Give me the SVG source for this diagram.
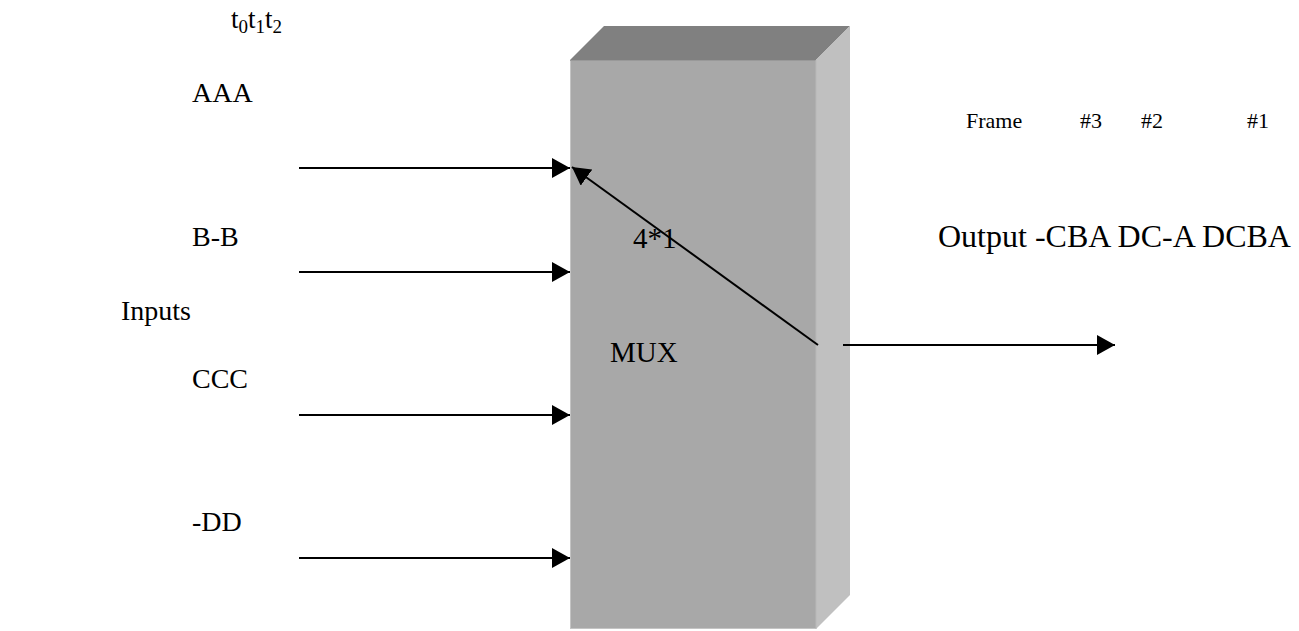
<svg xmlns="http://www.w3.org/2000/svg" width="1299" height="631" viewBox="0 0 1299 631">
<style>
text{font-family:"Liberation Serif","Times New Roman",serif;fill:#000}
.l{font-size:28px}
.s{font-size:22px}
.c{stroke:#000;stroke-width:2;fill:none}
</style>
<defs>
<marker id="ah" viewBox="0 0 18 20" refX="18" refY="10" markerWidth="18" markerHeight="20" markerUnits="userSpaceOnUse" orient="auto">
<path d="M0,0L18,10L0,20Z" fill="#000"/>
</marker>
</defs>
<rect width="1299" height="631" fill="#fff"/>
<g id="mux">
<polygon points="570,60 604,26 850,26 816,60" fill="#808080"/>
<polygon points="816,60 850,26 850,595 816,629" fill="#c0c0c0"/>
<rect x="570" y="60" width="246" height="569" fill="#a8a8a8"/>
<line x1="570.5" y1="60" x2="570.5" y2="629" stroke="#c4c4c4" stroke-width="1"/>
<line x1="570" y1="628.5" x2="816" y2="628.5" stroke="#c4c4c4" stroke-width="1"/>
<line x1="570" y1="60.5" x2="816" y2="60.5" stroke="#999" stroke-width="1"/>
<line x1="816" y1="60" x2="816" y2="629" stroke="#b8b8b8" stroke-width="1"/>
<text x="633" y="248" font-size="29">4*1</text>
<text x="610" y="362" font-size="29">MUX</text>
</g>
<g id="labels">
<text x="231" y="28" font-size="27">t<tspan font-size="19" dy="5">0</tspan><tspan dy="-5">t</tspan><tspan font-size="19" dy="5">1</tspan><tspan dy="-5">t</tspan><tspan font-size="19" dy="5">2</tspan></text>
<text class="l" x="192" y="102">AAA</text>
<text class="l" x="192" y="246">B-B</text>
<text class="l" x="192" y="388">CCC</text>
<text class="l" x="192" y="531">-DD</text>
<text class="l" x="121" y="320">Inputs</text>
<text class="s" x="966" y="128">Frame</text>
<text class="s" x="1080" y="128">#3</text>
<text class="s" x="1141" y="128">#2</text>
<text class="s" x="1247" y="128">#1</text>
<text x="938" y="247" font-size="32">Output -CBA DC-A DCBA</text>
</g>
<g id="connectors">
<line class="c" x1="299" y1="168" x2="570" y2="168" marker-end="url(#ah)"/>
<line class="c" x1="299" y1="272" x2="570" y2="272" marker-end="url(#ah)"/>
<line class="c" x1="299" y1="415" x2="570" y2="415" marker-end="url(#ah)"/>
<line class="c" x1="299" y1="558" x2="570" y2="558" marker-end="url(#ah)"/>
<line class="c" x1="818" y1="345" x2="572" y2="167" marker-end="url(#ah)"/>
<line class="c" x1="843" y1="345" x2="1115" y2="345" marker-end="url(#ah)"/>
</g>
</svg>
